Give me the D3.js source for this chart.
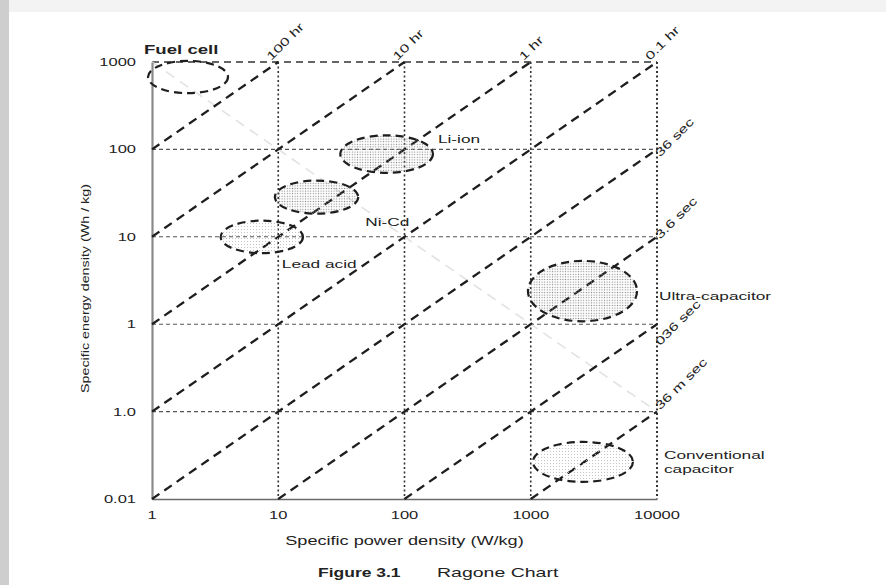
<!DOCTYPE html>
<html>
<head>
<meta charset="utf-8">
<script src="https://cdn.jsdelivr.net/npm/d3@7"></script>
<style>
  body { margin: 0; background: #fff; }
  text { font-family: "Liberation Sans", Arial, sans-serif; fill: #222; }
</style>
</head>
<body>
<svg id="chart" width="886" height="585"></svg>
<script>
// power axis ticks (W/kg) and energy axis ticks (Wh/kg)
const powerTicks = [1, 10, 100, 1000, 10000];
const powerTickLabels = ["1", "10", "100", "1000", "10000"];
const energyTicks = [1000, 100, 10, 1, 0.1, 0.01];
const energyTickLabels = ["1000", "100", "10", "1", "1.0", "0.01"];

// constant discharge time lines, in hours, and their labels
const hours = [100, 10, 1, 0.1, 0.01, 0.001, 0.0001, 0.00001];
const hourLabels = ["100 hr", "10 hr", "1 hr", "0.1 hr", "36 sec", "3.6 sec", "036 sec", "36 m sec"];

// technology regions (ranges)
const techNames = ["Fuel cell", "Li-ion", "Ni-Cd", "Lead acid", "Ultra-capacitor", "Conventional capacitor"];
const techPower = [[0.93, 4.0], [31, 168], [9.4, 43], [3.5, 15.7], [950, 6950], [1040, 6450]];
const techEnergy = [[440, 1030], [54, 145], [18.4, 44], [6.5, 15.3], [1.08, 5.3], [0.0157, 0.045]];

const SX = 1.5; // the scan is stretched sideways

const svg = d3.select("#chart");

// page background like the scan
svg.append("rect").attr("width", 886).attr("height", 585).attr("fill", "#fff");
svg.append("rect").attr("x", 0).attr("y", 0).attr("width", 886).attr("height", 12).attr("fill", "#f3f3f3");
svg.append("rect").attr("x", 0).attr("y", 0).attr("width", 9).attr("height", 585).attr("fill", "#cecece");

const defs = svg.append("defs");
defs.append("pattern").attr("id", "dots").attr("patternUnits", "userSpaceOnUse")
  .attr("width", 2.6).attr("height", 2.6)
  .append("circle").attr("cx", 1.3).attr("cy", 1.3).attr("r", 0.65).attr("fill", "#888");
defs.append("pattern").attr("id", "dotsLight").attr("patternUnits", "userSpaceOnUse")
  .attr("width", 3).attr("height", 3)
  .append("circle").attr("cx", 1.5).attr("cy", 1.5).attr("r", 0.55).attr("fill", "#bbb");
defs.append("clipPath").attr("id", "plotClip")
  .append("rect").attr("x", 150).attr("y", 58).attr("width", 511).attr("height", 443);

const x = d3.scaleLog().domain([1, 10000]).range([152, 657]);
const y = d3.scaleLog().domain([0.01, 1000]).range([499, 62]);

function stretchedText(g, px, py, str, opts) {
  opts = opts || {};
  const t = g.append("text")
    .attr("transform", "translate(" + px + "," + py + ")" + (opts.rotate ? " rotate(" + opts.rotate + ")" : "") + " scale(" + (opts.sx || SX) + ",1)")
    .attr("font-size", opts.size || 11)
    .attr("text-anchor", opts.anchor || "start")
    .text(str);
  if (opts.bold) t.attr("font-weight", "bold");
  return t;
}

// grid
const grid = svg.append("g");
grid.selectAll(".hgrid")
  .data(energyTicks.filter(function(d) { return d < 1000 && d > 0.01; }))
  .enter().append("line")
  .attr("x1", x(1)).attr("x2", x(10000))
  .attr("y1", function(d) { return y(d); }).attr("y2", function(d) { return y(d); })
  .attr("stroke", "#555").attr("stroke-width", 1.1).attr("stroke-dasharray", "4,3");
grid.append("line")
  .attr("x1", x(1)).attr("x2", x(10000)).attr("y1", y(1000)).attr("y2", y(1000))
  .attr("stroke", "#333").attr("stroke-width", 1.6).attr("stroke-dasharray", "7,5");
grid.selectAll(".vgrid")
  .data(powerTicks.filter(function(d) { return d > 1; }))
  .enter().append("line")
  .attr("x1", function(d) { return x(d); }).attr("x2", function(d) { return x(d); })
  .attr("y1", y(1000)).attr("y2", y(0.01))
  .attr("stroke", "#333").attr("stroke-width", function(d) { return d === 10000 ? 2 : 1.6; })
  .attr("stroke-dasharray", "2,2.5");

// faint constant power*energy line through the crossings
grid.append("line")
  .attr("x1", x(1)).attr("y1", y(1000)).attr("x2", x(10000)).attr("y2", y(0.1))
  .attr("stroke", "#e2e2e2").attr("stroke-width", 1.6).attr("stroke-dasharray", "10,7");

// axes
const yAxis = d3.axisLeft(y).tickValues(energyTicks).tickSize(0).tickPadding(0)
  .tickFormat(function() { return ""; });
svg.append("g").attr("transform", "translate(" + x(1) + ",0)").call(yAxis)
  .call(function(g) { g.select(".domain").attr("stroke", "#8a8a8a").attr("stroke-width", 2.2); });
const xAxis = d3.axisBottom(x).tickValues(powerTicks).tickSize(0).tickFormat(function() { return ""; });
svg.append("g").attr("transform", "translate(0," + y(0.01) + ")").call(xAxis)
  .call(function(g) { g.select(".domain").attr("stroke", "#6a6a6a").attr("stroke-width", 1.6); });

const labels = svg.append("g");
energyTicks.forEach(function(d, i) {
  stretchedText(labels, 136, y(d) + 4, energyTickLabels[i], { anchor: "end", size: 11 });
});
powerTicks.forEach(function(d, i) {
  stretchedText(labels, x(d), 519, powerTickLabels[i], { anchor: "middle", size: 11 });
});

// time lines
const diag = svg.append("g").attr("clip-path", "url(#plotClip)");
const diagEnds = hours.map(function(t) {
  const p0 = Math.max(1, 0.01 / t), p1 = Math.min(10000, 1000 / t);
  return { t: t, p0: p0, p1: p1 };
});
diag.selectAll(".diag").data(diagEnds).enter().append("line")
  .attr("x1", function(d) { return x(d.p0); }).attr("y1", function(d) { return y(d.p0 * d.t); })
  .attr("x2", function(d) { return x(d.p1); }).attr("y2", function(d) { return y(d.p1 * d.t); })
  .attr("stroke", "#1e1e1e").attr("stroke-width", 2.3).attr("stroke-dasharray", "9,6");

const labelShift = { "036 sec": 22, "3.6 sec": 3, "36 m sec": -1 };
diagEnds.forEach(function(d, i) {
  const ex = x(d.p1), ey = y(d.p1 * d.t);
  let px, py;
  if (d.p1 * d.t >= 999) { px = ex - 7; py = ey - 1; }
  else { px = ex + 3; py = ey + (labelShift[hourLabels[i]] !== undefined ? labelShift[hourLabels[i]] : 8); }
  stretchedText(labels, px, py, hourLabels[i], { rotate: -45, size: 11.5, sx: 1.45 });
});

// technology ellipses
const fills = ["none", "url(#dots)", "url(#dots)", "url(#dotsLight)", "url(#dots)", "url(#dotsLight)"];
const techs = techNames.map(function(n, i) {
  const x0 = x(techPower[i][0]), x1 = x(techPower[i][1]);
  const y0 = y(techEnergy[i][1]), y1 = y(techEnergy[i][0]);
  return { name: n, cx: (x0 + x1) / 2, cy: (y0 + y1) / 2, rx: (x1 - x0) / 2, ry: (y1 - y0) / 2, x0: x0, x1: x1, y0: y0, y1: y1, fill: fills[i] };
});
svg.append("g").selectAll("ellipse").data(techs).enter().append("ellipse")
  .attr("cx", function(d) { return d.cx; }).attr("cy", function(d) { return d.cy; })
  .attr("rx", function(d) { return d.rx; }).attr("ry", function(d) { return d.ry; })
  .attr("fill", function(d) { return d.fill; })
  .attr("stroke", "#1e1e1e").attr("stroke-width", 2.2).attr("stroke-dasharray", "8,5");

// technology labels, placed next to their regions
techs.forEach(function(d) {
  if (d.name === "Fuel cell") stretchedText(labels, d.x0 - 4, d.y0 - 7, d.name, { size: 12, bold: true, sx: 1.55 });
  else if (d.name === "Li-ion") stretchedText(labels, d.x1 + 5, d.y0 + 8, d.name, { size: 11.5 });
  else if (d.name === "Ni-Cd") stretchedText(labels, d.x1 + 7, d.y1 + 12, d.name, { size: 11.5 });
  else if (d.name === "Lead acid") stretchedText(labels, d.cx + 20, d.y1 + 15, d.name, { size: 11.5 });
  else if (d.name === "Ultra-capacitor") stretchedText(labels, x(10000) + 2, d.cy + 9, d.name, { size: 11.5 });
  else {
    stretchedText(labels, x(10000) + 7, d.cy - 3, "Conventional", { size: 11.5 });
    stretchedText(labels, x(10000) + 7, d.cy + 11, "capacitor", { size: 11.5 });
  }
});

// axis titles and caption
stretchedText(labels, (x(1) + x(10000)) / 2, 545, "Specific power density (W/kg)", { anchor: "middle", size: 12.5, sx: 1.45 });
stretchedText(labels, 89, (y(1000) + y(0.01)) / 2 + 8, "Specific energy density (Wh / kg)", { anchor: "middle", size: 11, rotate: -90, sx: 1.3 });
stretchedText(labels, 318, 577, "Figure 3.1", { size: 12.5, bold: true, sx: 1.4 });
stretchedText(labels, 437, 577, "Ragone Chart", { size: 13, sx: 1.5 });
</script>
</body>
</html>
